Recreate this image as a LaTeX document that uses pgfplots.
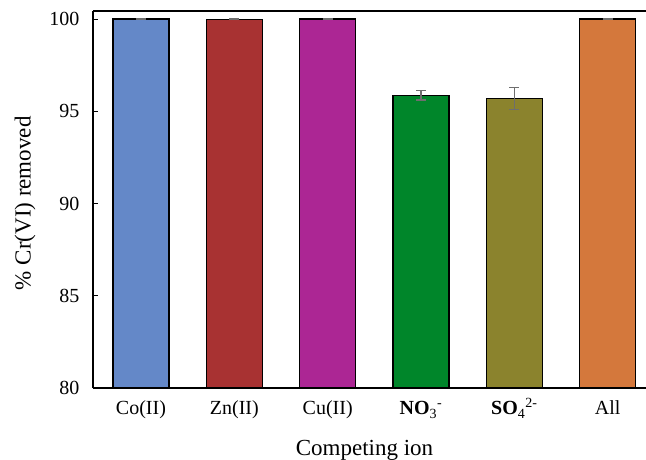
\documentclass[border=0pt]{standalone}
\usepackage{pgfplots}
\pgfplotsset{compat=1.18}
\usepackage{fontspec}
\setmainfont{Liberation Serif}
\definecolor{cBlue}{HTML}{6488C8}
\definecolor{cRed}{HTML}{A83232}
\definecolor{cMag}{HTML}{AC2694}
\definecolor{cGreen}{HTML}{00862A}
\definecolor{cOlive}{HTML}{8B832D}
\definecolor{cOrange}{HTML}{D4783C}
\definecolor{errgray}{HTML}{6E6E6E}
\pgfplotsset{
  mybar/.style={
    ybar, bar width=0.6, bar shift=0pt, draw=black, line width=1.2pt, fill=#1,
    error bars/y dir=both, error bars/y explicit,
    error bars/error bar style={errgray, line width=1.3pt},
    error bars/error mark options={rotate=90, mark size=5pt, errgray, line width=1.3pt}
  }
}
\begin{document}
\begin{tikzpicture}
\path[use as bounding box] (0,0) rectangle (646pt,460pt);
\begin{axis}[
  at={(93pt,72pt)}, anchor=south west,
  scale only axis, width=553pt, height=377pt,
  xmin=-0.514, xmax=5.41, ymin=80, ymax=100.43,
  separate axis lines,
  axis x line=box, axis y line=left,
  axis line style={-, line width=1.3pt},
  ytick={80,85,90,95,100},
  xtick={0,1,2,3,4,5},
  xticklabels={Co(II),Zn(II),Cu(II),{\textbf{NO}\textsubscript{3}\textsuperscript{-}},{\textbf{SO}\textsubscript{4}\textsuperscript{2-}},All},
  x tick style={draw=none},
  ytick pos=left,
  tick align=inside,
  major tick length=5pt,
  y tick style={line width=0.8pt, black},
  tick label style={font=\fontsize{20}{24}\selectfont},
  x tick label style={anchor=base, yshift=-27pt},
  y tick label style={xshift=-10pt},
  label style={font=\fontsize{23}{27}\selectfont},
  xlabel={Competing ion},
  xlabel style={at={(axis description cs:0.491,0)}, anchor=north, yshift=-49pt},
  ylabel={\% Cr(VI) removed},
  ylabel style={at={(axis description cs:0,0.49)}, anchor=south, yshift=54pt},
  /pgf/number format/assume math mode=true,
  clip=true,
]
\addplot[mybar=cBlue] coordinates {(0,100) +- (0,0.02)};
\addplot[mybar=cRed] coordinates {(1,99.98) +- (0,0.02)};
\addplot[mybar=cMag] coordinates {(2,100) +- (0,0.02)};
\addplot[mybar=cGreen] coordinates {(3,95.86) +- (0,0.25)};
\addplot[mybar=cOlive] coordinates {(4,95.70) +- (0,0.60)};
\addplot[mybar=cOrange] coordinates {(5,100) +- (0,0.02)};
\end{axis}
\end{tikzpicture}
\end{document}
